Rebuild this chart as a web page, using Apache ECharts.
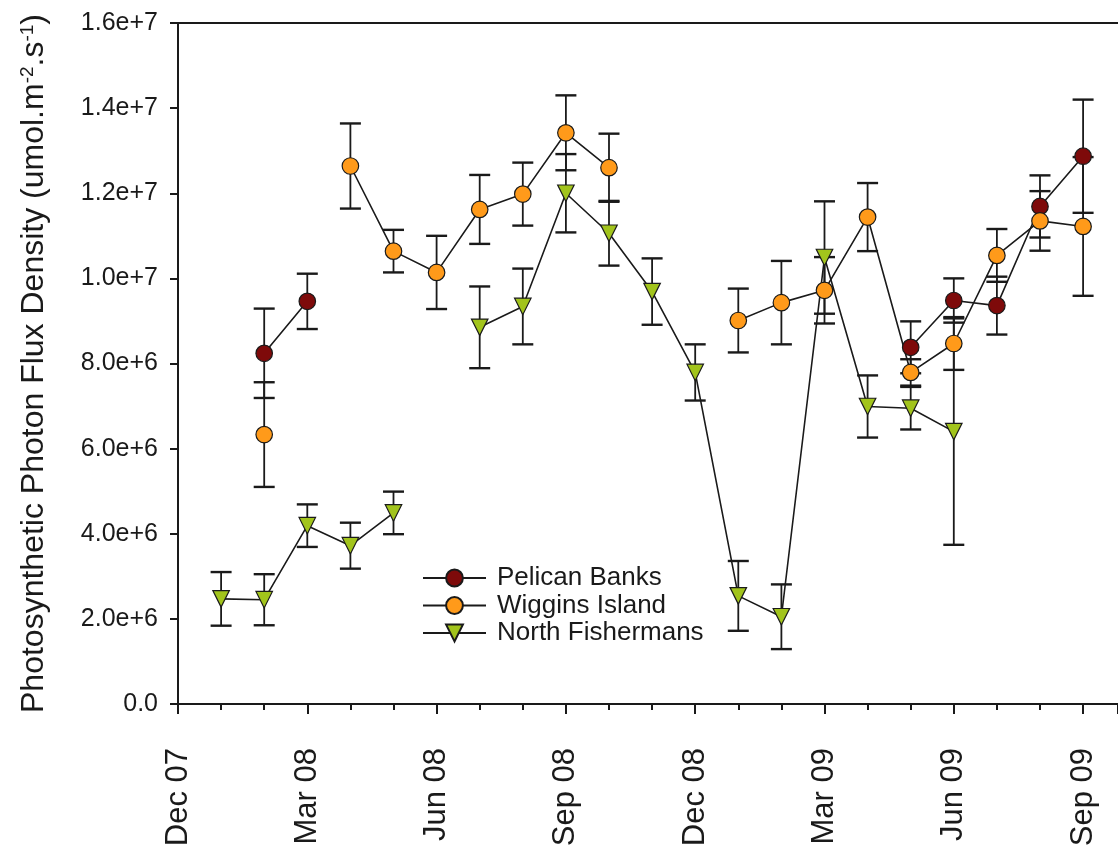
<!DOCTYPE html>
<html>
<head>
<meta charset="utf-8">
<script src="https://cdn.jsdelivr.net/npm/echarts@6/dist/echarts.min.js"></script>
<style>
html,body{margin:0;padding:0;background:#fff;}
#chart{width:1118px;height:852px;}
</style>
</head>
<body>
<div id="chart"></div>
<script>
// Month index: 0 = Dec 07, 1 = Jan 08 ... 21 = Sep 09
const months = [1,2,3,4,5,6,7,8,9,10,11,12,13,14,15,16,17,18,19,20,21];
const tickLabels = ['Dec 07','Mar 08','Jun 08','Sep 08','Dec 08','Mar 09','Jun 09','Sep 09'];
const seriesNames = ['Pelican Banks','Wiggins Island','North Fishermans'];

const pelican    = [null,8.24e6,9.46e6,null,null,null,null,null,null,null,null,null,null,null,null,null,8.38e6,9.48e6,9.36e6,11.69e6,12.87e6];
const pelicanErr = [null,1.05e6,0.65e6,null,null,null,null,null,null,null,null,null,null,null,null,null,0.61e6,0.52e6,0.68e6,0.73e6,1.33e6];

const wiggins    = [null,6.33e6,null,12.64e6,10.64e6,10.14e6,11.62e6,11.98e6,13.42e6,12.60e6,null,null,9.01e6,9.43e6,9.72e6,11.44e6,7.79e6,8.47e6,10.54e6,11.35e6,11.22e6];
const wigginsErr = [null,1.23e6,null,1.00e6,0.50e6,0.86e6,0.81e6,0.74e6,0.88e6,0.80e6,null,null,0.75e6,0.98e6,0.78e6,0.80e6,0.31e6,0.62e6,0.62e6,0.70e6,1.63e6];

const north      = [2.47e6,2.45e6,4.19e6,3.72e6,4.49e6,null,8.85e6,9.34e6,12.00e6,11.06e6,9.69e6,7.79e6,2.54e6,2.05e6,10.49e6,6.99e6,6.95e6,6.40e6,null,null,null];
const northErr   = [0.63e6,0.60e6,0.50e6,0.54e6,0.50e6,null,0.96e6,0.89e6,0.92e6,0.76e6,0.78e6,0.66e6,0.82e6,0.76e6,1.32e6,0.73e6,0.50e6,2.66e6,null,null,null];

const X_MAX = 21.81;
const FONT = '"Liberation Sans", Arial, sans-serif';
const INK = '#1a1a1a';

function lineData(vals){
  return months.map((m,i)=> vals[i]==null ? [m,'-'] : [m, vals[i]]);
}
function errData(vals, errs){
  const out = [];
  months.forEach((m,i)=>{
    if (vals[i]!=null && errs[i]!=null) out.push([m, vals[i]-errs[i], vals[i]+errs[i]]);
  });
  return out;
}
function errSeries(vals, errs){
  return {
    type:'custom',
    z:1,
    silent:true,
    data: errData(vals, errs),
    encode:{x:0, y:[1,2]},
    renderItem:function(params, api){
      const x = api.value(0);
      const lo = api.coord([x, api.value(1)]);
      const hi = api.coord([x, api.value(2)]);
      const hw = 10.5;
      return {type:'group', children:[
        {type:'line', shape:{x1:lo[0], y1:lo[1], x2:hi[0], y2:hi[1]}, style:{stroke:INK, lineWidth:1.8}},
        {type:'line', shape:{x1:lo[0]-hw, y1:lo[1], x2:lo[0]+hw, y2:lo[1]}, style:{stroke:INK, lineWidth:2.4}},
        {type:'line', shape:{x1:hi[0]-hw, y1:hi[1], x2:hi[0]+hw, y2:hi[1]}, style:{stroke:INK, lineWidth:2.4}}
      ]};
    }
  };
}
function lineSeries(name, vals, color, symbol, rotate){
  return {
    name:name,
    type:'line',
    z:3,
    data: lineData(vals),
    connectNulls:false,
    symbol:symbol,
    symbolRotate:rotate,
    symbolSize:16.5,
    showSymbol:true,
    lineStyle:{color:INK, width:1.6},
    itemStyle:{color:color, borderColor:INK, borderWidth:1.2},
    emphasis:{disabled:true}
  };
}

const chart = echarts.init(document.getElementById('chart'), null, {renderer:'canvas'});
const option = {
  animation:false,
  backgroundColor:'#ffffff',
  textStyle:{fontFamily:FONT},
  grid:{left:178, top:23, right:0, bottom:148, containLabel:false},
  legend:{
    orient:'vertical',
    left:417, top:560,
    itemWidth:63, itemHeight:21, itemGap:1.5,
    data:seriesNames,
    textStyle:{fontSize:26, color:INK, fontFamily:FONT, padding:[0,0,0,6]},
    selectedMode:false
  },
  xAxis:[
    {type:'value', min:0, max:X_MAX, interval:1, position:'bottom',
     axisLine:{show:true, lineStyle:{color:INK, width:2}},
     axisTick:{show:true, length:6, lineStyle:{color:INK, width:2}},
     axisLabel:{show:false}, splitLine:{show:false}},
    {type:'value', min:0, max:X_MAX, interval:3, position:'bottom',
     axisLine:{show:false},
     axisTick:{show:true, length:10, lineStyle:{color:INK, width:2}},
     axisLabel:{show:true, rotate:90, margin:44, fontSize:31, color:INK, fontFamily:FONT,
       formatter:function(v){ return (v % 3 === 0 && tickLabels[v/3]) ? tickLabels[v/3] : ''; }},
     splitLine:{show:false}},
    {type:'value', min:0, max:X_MAX, position:'top',
     axisLine:{show:true, lineStyle:{color:INK, width:2}},
     axisTick:{show:false}, axisLabel:{show:false}, splitLine:{show:false}}
  ],
  yAxis:{
    type:'value', min:0, max:1.6e7, interval:2e6,
    axisLine:{show:true, lineStyle:{color:INK, width:2}},
    axisTick:{show:true, length:8, lineStyle:{color:INK, width:2}},
    axisLabel:{margin:20, fontSize:25, color:INK, fontFamily:FONT,
      formatter:function(v){ return v===0 ? '0.0' : v.toExponential(1); }},
    splitLine:{show:false},
    name:'Photosynthetic Photon Flux Density (umol.m{sup|-2}.s{sup|-1})',
    nameLocation:'middle',
    nameRotate:90,
    nameGap:128,
    nameTextStyle:{fontSize:32, color:INK, fontFamily:FONT,
      rich:{sup:{fontSize:19, verticalAlign:'top', color:INK, fontFamily:FONT}}}
  },
  series:[
    errSeries(pelican, pelicanErr),
    errSeries(wiggins, wigginsErr),
    errSeries(north, northErr),
    lineSeries('Pelican Banks', pelican, '#7e0a0a', 'circle', 0),
    lineSeries('Wiggins Island', wiggins, '#ff9a1a', 'circle', 0),
    lineSeries('North Fishermans', north, '#a2c41c', 'triangle', 180)
  ]
};
chart.setOption(option);
</script>
</body>
</html>
